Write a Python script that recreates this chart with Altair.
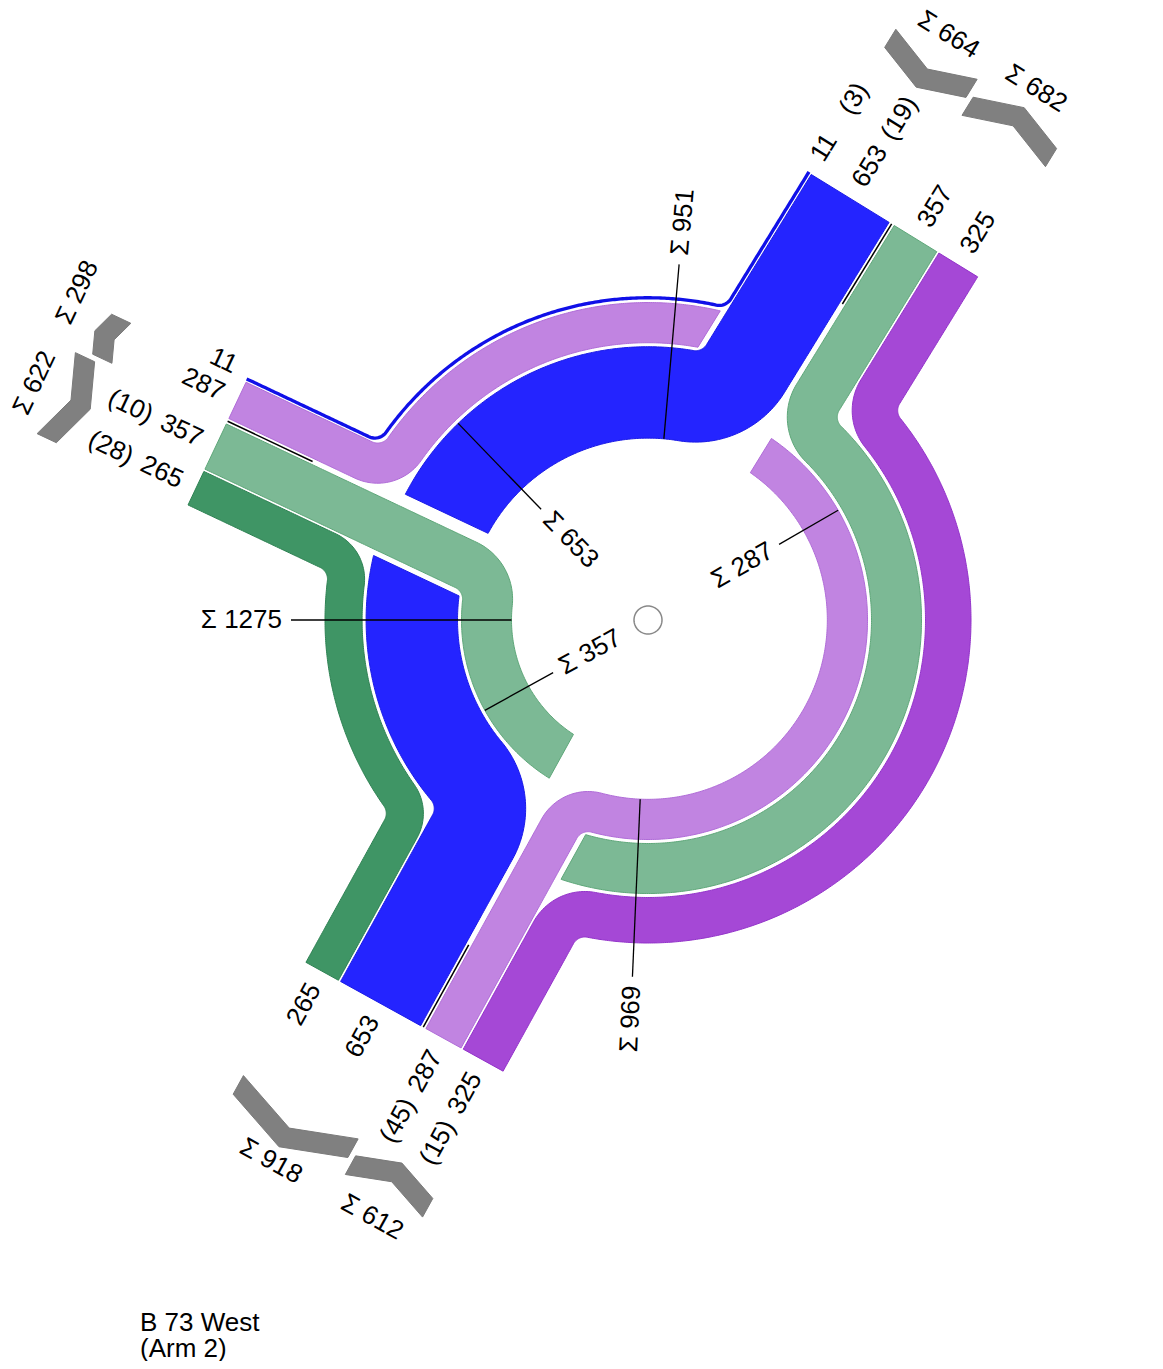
import math
import numpy as np
import altair as alt

# ---------------- values ----------------
arm_angle = [58.4, 154.7, 241.1]          # arm axis directions (deg, ccw from east): NE, W, S
flow_src = [0, 0, 1, 1, 2, 2]
flow_dst = [1, 2, 0, 2, 1, 0]
flow_veh = [11, 653, 357, 265, 287, 325]
flow_hv = [3, 19, 10, 28, 45, 15]
flow_fill = ["#2424ff", "#2424ff", "#7cb995", "#3f9565", "#c184e1", "#a548d6"]
flow_edge = ["#1010e8", "#1a1ae6", "#5ea779", "#2e8253", "#b06cd8", "#9333ca"]
caption = ["B 73 West", "(Arm 2)"]

# ---------------- layout ----------------
PAGE_W, PAGE_H = 1147, 1353
OFF = 8.0
C = np.array([648.0, 620.0])
PX = 0.14
R_OUT = 323.0
RING_GAP = 4.0
AXIS_GAP = 3.0
LANE_GAP = 2.5
BEND = 13.0
T_CUT = 465.0
T_DIV = 371.0
T_VAL = 481.0
T_HV = 536.0
T_GLYPH = 605.0
T_SUM = 656.0
GLYPH_W = 20.0
GLYPH_ANG = 20.0
GAP_OUT, GAP_IN = 6.0, 10.0
sum_out_angle = [85.0, 180.0, 267.5]
SUM_OUT_EXT = 34.0
sum_in_angle = [134.0, 209.0, 30.0]
SUM_IN_EXT = 28.0
TEXT_GAP = 9.0
FONT = "Liberation Sans"
FS = 26
SIG = "\u03a3"


def u_of(a):
    th = math.radians(arm_angle[a])
    return np.array([math.cos(th), -math.sin(th)])


def n_of(a):
    u = u_of(a)
    return np.array([-u[1], u[0]])


def apt(a, t, s):
    return C + t * u_of(a) + s * n_of(a)


def rpt(phi, r):
    p = math.radians(phi)
    return C + r * np.array([math.cos(p), -math.sin(p)])


def ang_of(p):
    d = p - C
    return math.degrees(math.atan2(-d[1], d[0]))


def frame(a, p):
    d = p - C
    return float(d @ u_of(a)), float(d @ n_of(a))


def seg_line(p, q, step=2.0):
    n = max(2, int(np.linalg.norm(q - p) / step) + 1)
    return [p + (q - p) * k / (n - 1) for k in range(n)]


def seg_arc(ctr, r, a1, a2, step=1.5):
    n = max(3, int(abs(a2 - a1) * r / step) + 1)
    return [ctr + r * np.array([math.cos(x), math.sin(x)]) for x in np.linspace(a1, a2, n)]


def seg_ring(r, p1, p2, step=2.0):
    n = max(2, int(math.radians(abs(p2 - p1)) * r / step) + 1)
    return [rpt(x, r) for x in np.linspace(p1, p2, n)]


def unwrap(x, ref):
    while x <= ref:
        x += 360.0
    while x > ref + 360.0:
        x -= 360.0
    return x


def fillet(a, s_p, R, rho, inbound):
    s_f = s_p - rho if inbound else s_p + rho
    dist = R + rho
    t_f = math.sqrt(dist ** 2 - s_f ** 2)
    F = apt(a, t_f, s_f)
    T1 = apt(a, t_f, s_p)
    J = C + R * (F - C) / np.linalg.norm(F - C)
    a1 = math.atan2((T1 - F)[1], (T1 - F)[0])
    a2 = math.atan2((J - F)[1], (J - F)[0])
    d = (a2 - a1 + math.pi) % (2 * math.pi) - math.pi
    return t_f, seg_arc(F, rho, a1, a1 + d), ang_of(F)


def dedupe(pts):
    out = [np.asarray(pts[0], float)]
    for p in pts[1:]:
        if np.linalg.norm(p - out[-1]) > 0.3:
            out.append(np.asarray(p, float))
    return np.array(out)


def edges(pts, w):
    P = dedupe(pts)
    T = np.gradient(P, axis=0)
    T = T / np.linalg.norm(T, axis=1)[:, None]
    lft = np.stack([T[:, 1], -T[:, 0]], axis=1)
    return P + lft * w / 2, P - lft * w / 2


def clip_tail(E, m, s_min):
    for i in range(len(E)):
        t, s = frame(m, E[i])
        if t > 0 and s < s_min:
            if i == 0:
                return E[:1]
            _, s0 = frame(m, E[i - 1])
            f = (s0 - s_min) / (s0 - s)
            return np.vstack([E[:i], E[i - 1] + f * (E[i] - E[i - 1])])
    return E


def clip_head(E, m, s_max):
    for i in range(len(E) - 1, -1, -1):
        t, s = frame(m, E[i])
        if t > 0 and s > s_max:
            if i == len(E) - 1:
                return E[-1:]
            _, s1 = frame(m, E[i + 1])
            f = (s1 - s_max) / (s1 - s)
            return np.vstack([E[i + 1] + f * (E[i] - E[i + 1]), E[i + 1:]])
    return E


def isect(p, d, q, e):
    A = np.array([[d[0], -e[0]], [d[1], -e[1]]])
    sol = np.linalg.solve(A, q - p)
    return p + sol[0] * d


def xy(p):
    return [float(p[0] - OFF), float(p[1] - OFF)]


poly_feats = []
line_feats = []
texts = []


def add_poly(pts, fill, stroke, sw):
    coords = [xy(p) for p in pts]
    coords.append(coords[0])
    poly_feats.append({"type": "Feature",
                       "geometry": {"type": "Polygon", "coordinates": [coords]},
                       "properties": {"fill": fill, "stroke": stroke, "sw": sw}})


def add_line(pts, stroke, sw):
    line_feats.append({"type": "Feature",
                       "geometry": {"type": "LineString", "coordinates": [xy(p) for p in pts]},
                       "properties": {"stroke": stroke, "sw": sw}})


def add_text(p, txt, angle, align):
    texts.append({"x": float(p[0] - OFF), "y": float(p[1] - OFF), "text": txt,
                  "ang": float(angle % 360.0), "align": align})


# frame (keeps projection at 1:1 even if it were fitted)
add_poly([np.array([OFF, OFF]), np.array([OFF + PAGE_W, OFF]),
          np.array([OFF + PAGE_W, OFF + PAGE_H]), np.array([OFF, OFF + PAGE_H])],
         "transparent", "transparent", 0)

nF = len(flow_veh)
W = [PX * v for v in flow_veh]
L = [(flow_dst[i] - flow_src[i]) % 3 for i in range(nF)]


def sections(i):
    return [(flow_src[i] + j) % 3 for j in range(L[i])]


# ring radii per section
rad = {}
sec_inner = {}
sec_members = {}
for k in range(3):
    mem = [i for i in range(nF) if k in sections(i)]
    mem.sort(key=lambda i: (0 if flow_dst[i] == (k + 1) % 3 else 1, L[i]))
    sec_members[k] = mem
    r = R_OUT
    for i in mem:
        rad[(i, k)] = r - W[i] / 2
        r -= W[i] + RING_GAP
    sec_inner[k] = r + RING_GAP

# arm lanes
s_in, s_out = {}, {}
in_ext, out_ext = {}, {}
for a in range(3):
    ins = sorted([i for i in range(nF) if flow_src[i] == a], key=lambda i: -L[i])
    s = -AXIS_GAP
    for i in ins:
        s_in[i] = s - W[i] / 2
        s -= W[i] + LANE_GAP
    in_ext[a] = (-AXIS_GAP, s + LANE_GAP)
    outs = sorted([i for i in range(nF) if flow_dst[i] == a], key=lambda i: -L[i])
    s = AXIS_GAP
    for i in outs:
        s_out[i] = s + W[i] / 2
        s += W[i] + LANE_GAP
    out_ext[a] = (AXIS_GAP, s - LANE_GAP)

# gap (crossing corridor) at every arm
gap = {}
for m in range(3):
    longs = [i for i in range(nF) if flow_src[i] == m and L[i] == 2]
    s_e = min(s_in[i] - W[i] / 2 for i in longs)
    gap[m] = (s_e - GAP_OUT, GAP_IN)

# ---------------- bands ----------------
for i in range(nF):
    a, b = flow_src[i], flow_dst[i]
    w = W[i]
    rho = w / 2 + BEND
    secs = sections(i)
    R1 = rad[(i, secs[0])]
    R2 = rad[(i, secs[-1])]
    t_in, arc_in, phi_in = fillet(a, s_in[i], R1, rho, True)
    t_out, arc_out, phi_out = fillet(b, s_out[i], R2, rho, False)
    head = seg_line(apt(a, T_CUT, s_in[i]), apt(a, t_in, s_in[i])) + arc_in
    tail = arc_out[::-1] + seg_line(apt(b, t_out, s_out[i]), apt(b, T_CUT, s_out[i]))
    sw = 1.8 if w < 3 else 1.0
    if L[i] == 1:
        pts = head + seg_ring(R1, phi_in, unwrap(phi_out, phi_in)) + tail
        le, re = edges(pts, w)
        add_poly(list(le) + list(re[::-1]), flow_fill[i], flow_edge[i], sw)
    else:
        m = secs[1]
        lo, hi = gap[m]
        sc = (lo + hi) / 2
        p1 = unwrap(arm_angle[m] - math.degrees(math.asin(sc / R1)), phi_in)
        seg1 = head + seg_ring(R1, phi_in, p1)
        le, re = edges(seg1, w)
        le, re = clip_tail(le, m, hi), clip_tail(re, m, hi)
        add_poly(list(le) + list(re[::-1]), flow_fill[i], flow_edge[i], sw)
        p2 = arm_angle[m] - math.degrees(math.asin(sc / R2))
        seg2 = seg_ring(R2, p2, unwrap(phi_out, p2)) + tail
        le, re = edges(seg2, w)
        le, re = clip_head(le, m, lo), clip_head(re, m, lo)
        add_poly(list(le) + list(re[::-1]), flow_fill[i], flow_edge[i], sw)


# ---------------- arm glyphs, dividers, labels ----------------
def chevron(a, s1, s2, tip_in):
    half = abs(s2 - s1) / 2
    dep = half * math.tan(math.radians(GLYPH_ANG))
    sm = (s1 + s2) / 2
    if tip_in:
        E1, Tp, E2 = apt(a, T_GLYPH + dep, s1), apt(a, T_GLYPH, sm), apt(a, T_GLYPH + dep, s2)
    else:
        E1, Tp, E2 = apt(a, T_GLYPH, s1), apt(a, T_GLYPH + dep, sm), apt(a, T_GLYPH, s2)
    u = u_of(a)
    d1 = (Tp - E1) / np.linalg.norm(Tp - E1)
    d2 = (E2 - Tp) / np.linalg.norm(E2 - Tp)
    l1 = np.array([d1[1], -d1[0]])
    l2 = np.array([d2[1], -d2[0]])
    h = GLYPH_W / 2
    side = []
    for sg in (1, -1):
        side.append([isect(E1 + sg * h * l1, d1, E1, u),
                     isect(E1 + sg * h * l1, d1, E2 + sg * h * l2, d2),
                     isect(E2 + sg * h * l2, d2, E2, u)])
    return side[0] + side[1][::-1]


for a in range(3):
    u, n = u_of(a), n_of(a)
    # divider
    add_line([apt(a, T_DIV, 0), apt(a, T_CUT, 0)], "black", 1.5)
    # glyphs
    add_poly(chevron(a, in_ext[a][0], in_ext[a][1], True), "#808080", "#7a7a7a", 1)
    add_poly(chevron(a, out_ext[a][0], out_ext[a][1], False), "#808080", "#7a7a7a", 1)
    # lane labels
    outward = u[0] > 0
    rd = u if outward else -u
    lang = math.degrees(math.atan2(rd[1], rd[0]))
    al = "left" if outward else "right"
    for group, sgn in ((s_in, -1), (s_out, 1)):
        ids = sorted([i for i in group if (flow_src[i] if sgn < 0 else flow_dst[i]) == a],
                     key=lambda i: abs(group[i]))
        prev = None
        for i in ids:
            s = group[i]
            if prev is not None and abs(s - prev) < 30:
                s = prev + sgn * 30
            prev = s
            add_text(apt(a, T_VAL, s), str(flow_veh[i]), lang, al)
            if sgn < 0:
                add_text(apt(a, T_HV, s), "(%d)" % flow_hv[i], lang, al)
    # arm sums
    tot_in = sum(flow_veh[i] for i in range(nF) if flow_src[i] == a)
    tot_out = sum(flow_veh[i] for i in range(nF) if flow_dst[i] == a)
    c_in = sum(in_ext[a]) / 2
    c_out = sum(out_ext[a]) / 2
    if c_out - c_in < 100:
        if (out_ext[a][1] - out_ext[a][0]) < (in_ext[a][0] - in_ext[a][1]):
            c_out = c_in + 100
        else:
            c_in = c_out - 100
    sd = n if n[0] > 0 else -n
    sang = math.degrees(math.atan2(sd[1], sd[0]))
    add_text(apt(a, T_SUM, c_in), "%s %d" % (SIG, tot_in), sang, "center")
    add_text(apt(a, T_SUM, c_out), "%s %d" % (SIG, tot_out), sang, "center")


# ---------------- ring cross-section sums ----------------
def radial_label(phi, r_a, r_b, txt, outside):
    add_line([rpt(phi, r_a), rpt(phi, r_b)], "black", 1.3)
    dvec = np.array([math.cos(math.radians(phi)), -math.sin(math.radians(phi))])
    reading_out = dvec[0] > 1e-9
    rd = dvec if reading_out else -dvec
    ta = math.degrees(math.atan2(rd[1], rd[0]))
    if outside:
        p = rpt(phi, r_b + TEXT_GAP)
        al = "left" if reading_out else "right"
    else:
        p = rpt(phi, r_b - TEXT_GAP)
        al = "right" if reading_out else "left"
    add_text(p, txt, ta, al)


for k in range(3):
    mem = sec_members[k]
    tot = sum(flow_veh[i] for i in mem)
    radial_label(sum_out_angle[k], sec_inner[k], R_OUT + SUM_OUT_EXT, "%s %d" % (SIG, tot), True)
    cont = [i for i in mem if flow_dst[i] != (k + 1) % 3]
    ctot = sum(flow_veh[i] for i in cont)
    r_top = max(rad[(i, k)] + W[i] / 2 for i in cont)
    radial_label(sum_in_angle[k], r_top, sec_inner[k] - SUM_IN_EXT, "%s %d" % (SIG, ctot), False)

# centre marker
add_line([rpt(x, 14.0) for x in np.linspace(0, 360, 73)], "#888888", 1.5)

# ---------------- chart ----------------
proj = dict(type="identity", scale=1, translate=[0, 0])

shapes = alt.Chart(alt.Data(values=poly_feats)).mark_geoshape().encode(
    fill=alt.Fill("properties.fill:N", scale=None),
    stroke=alt.Stroke("properties.stroke:N", scale=None),
    strokeWidth=alt.StrokeWidth("properties.sw:Q", scale=None),
).project(**proj)

lines = alt.Chart(alt.Data(values=line_feats)).mark_geoshape(filled=False, fill="transparent").encode(
    stroke=alt.Stroke("properties.stroke:N", scale=None),
    strokeWidth=alt.StrokeWidth("properties.sw:Q", scale=None),
).project(**proj)


def text_layer(align):
    rows = [t for t in texts if t["align"] == align]
    return alt.Chart(alt.Data(values=rows)).mark_text(
        align=align, baseline="middle", font=FONT, fontSize=FS, color="black"
    ).encode(
        longitude="x:Q", latitude="y:Q", text="text:N",
        angle=alt.Angle("ang:Q", scale=None),
    ).project(**proj)


cap_rows = [{"x": 140.0 - OFF, "y": 1331.0 - OFF, "text": "\n".join(caption)}]
cap_layer = alt.Chart(alt.Data(values=cap_rows)).mark_text(
    align="left", baseline="alphabetic", font=FONT, fontSize=FS, color="black",
    lineBreak="\n", lineHeight=26
).encode(longitude="x:Q", latitude="y:Q", text="text:N").project(**proj)

chart = alt.layer(
    shapes, lines, text_layer("left"), text_layer("right"), text_layer("center"), cap_layer
).properties(
    width=PAGE_W, height=PAGE_H, padding=0, autosize="none"
).configure_view(stroke=None)

chart.save("out.html", embed_options={"renderer": "svg", "actions": False})
